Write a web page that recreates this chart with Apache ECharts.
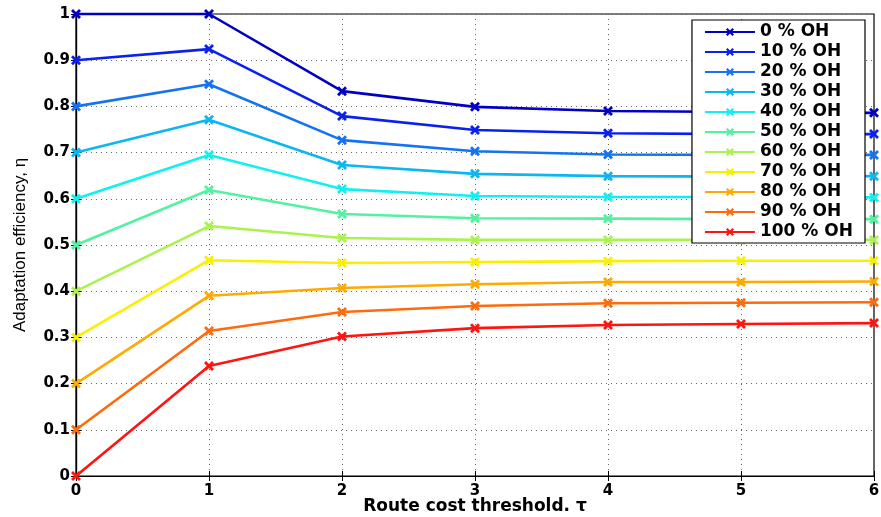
<!DOCTYPE html>
<html>
<head>
<meta charset="utf-8">
<script src="https://cdn.jsdelivr.net/npm/echarts@6/dist/echarts.min.js"></script>
<style>
  html, body { margin: 0; padding: 0; background: #fff; }
  #chart { width: 881px; height: 517px; }
</style>
</head>
<body>
<div id="chart"></div>
<script>
// Route cost threshold values (x axis)
const thresholds = [0, 1, 2, 3, 4, 5, 6];

// Series names: overhead percentage
const seriesNames = ['0 % OH', '10 % OH', '20 % OH', '30 % OH', '40 % OH', '50 % OH',
                     '60 % OH', '70 % OH', '80 % OH', '90 % OH', '100 % OH'];

// Adaptation efficiency per overhead level
const oh0   = [1.0, 1.0,   0.833, 0.799, 0.790, 0.788, 0.786];
const oh10  = [0.9, 0.924, 0.779, 0.749, 0.742, 0.740, 0.740];
const oh20  = [0.8, 0.848, 0.727, 0.703, 0.696, 0.695, 0.695];
const oh30  = [0.7, 0.771, 0.673, 0.654, 0.649, 0.648, 0.649];
const oh40  = [0.6, 0.695, 0.621, 0.606, 0.604, 0.604, 0.603];
const oh50  = [0.5, 0.619, 0.567, 0.558, 0.557, 0.556, 0.556];
const oh60  = [0.4, 0.541, 0.515, 0.511, 0.511, 0.511, 0.511];
const oh70  = [0.3, 0.467, 0.461, 0.463, 0.465, 0.466, 0.466];
const oh80  = [0.2, 0.390, 0.407, 0.415, 0.420, 0.420, 0.421];
const oh90  = [0.1, 0.314, 0.355, 0.368, 0.374, 0.375, 0.376];
const oh100 = [0.0, 0.238, 0.302, 0.320, 0.327, 0.329, 0.331];

const seriesValues = [oh0, oh10, oh20, oh30, oh40, oh50, oh60, oh70, oh80, oh90, oh100];

// Jet-like colour ramp from blue to red
const colors = ['#0000c4', '#0a20f0', '#1473f2', '#0cb6f2', '#10f0f0', '#52f2a0',
                '#aaf24e', '#f8f000', '#ffaa00', '#ff6a0c', '#ff1410'];

// Y tick labels
const yTicks = ['0', '0.1', '0.2', '0.3', '0.4', '0.5', '0.6', '0.7', '0.8', '0.9', '1'];

// Filled "x" marker
const crossPath = 'path://M0,2 L2,0 L5,3 L8,0 L10,2 L7,5 L10,8 L8,10 L5,7 L2,10 L0,8 L3,5 Z';

const BOLD = '"DejaVu Sans", sans-serif';
const PLAIN = '"Liberation Sans", Arial, sans-serif';

const chart = echarts.init(document.getElementById('chart'), null, { renderer: 'canvas' });

const series = seriesNames.map((name, i) => ({
  name: name,
  type: 'line',
  data: thresholds.map((x, j) => [x, seriesValues[i][j]]),
  symbol: crossPath,
  symbolSize: 10,
  showAllSymbol: true,
  clip: false,
  lineStyle: { width: 2.6, color: colors[i] },
  itemStyle: { color: colors[i] },
  emphasis: { disabled: true },
  z: 3 + i
}));

chart.setOption({
  animation: false,
  backgroundColor: '#ffffff',
  grid: {
    left: 76, right: 7, top: 14, bottom: 41,
    outerBoundsMode: 'none',
    containLabel: false,
    show: true, borderColor: '#000', borderWidth: 1.2, backgroundColor: 'transparent'
  },
  legend: {
    orient: 'vertical',
    right: 16,
    top: 20,
    backgroundColor: '#ffffff',
    borderColor: '#000',
    borderWidth: 1.2,
    padding: [2, 12, 1, 12],
    itemWidth: 50,
    itemHeight: 10,
    itemGap: 0,
    textStyle: { fontFamily: BOLD, fontWeight: 'bold', fontSize: 17, lineHeight: 20, color: '#000' },
    data: seriesNames,
    z: 20
  },
  xAxis: [{
    type: 'value',
    min: 0, max: 6, interval: 1,
    name: 'Route cost threshold. τ',
    nameLocation: 'middle',
    nameGap: 22,
    nameMoveOverlap: false,
    nameTextStyle: { fontFamily: BOLD, fontWeight: 'bold', fontSize: 17, color: '#000' },
    axisLine: { show: true, onZero: false, lineStyle: { color: '#000', width: 1.2 } },
    axisTick: { show: true, inside: true, length: 5, lineStyle: { color: '#000' } },
    axisLabel: { fontFamily: BOLD, fontWeight: 'bold', fontSize: 15, color: '#000', margin: 8 },
    splitLine: { show: true, lineStyle: { color: '#666', type: [1, 4], width: 1 } }
  }, {
    type: 'value', position: 'top',
    min: 0, max: 6, interval: 1,
    axisLine: { show: true, lineStyle: { color: '#000', width: 1.2 } },
    axisTick: { show: true, inside: true, length: 5, lineStyle: { color: '#000' } },
    axisLabel: { show: false },
    splitLine: { show: false }
  }],
  yAxis: [{
    type: 'value',
    min: 0, max: 1, interval: 0.1,
    name: 'Adaptation efficiency, η',
    nameLocation: 'middle',
    nameGap: 47,
    nameMoveOverlap: false,
    nameTextStyle: { fontFamily: PLAIN, fontSize: 17, color: '#000' },
    axisLine: { show: true, onZero: false, lineStyle: { color: '#000', width: 1.2 } },
    axisTick: { show: true, inside: true, length: 5, lineStyle: { color: '#000' } },
    axisLabel: {
      fontFamily: BOLD, fontWeight: 'bold', fontSize: 15, color: '#000', margin: 6,
      formatter: (v) => yTicks[Math.round(v * 10)]
    },
    splitLine: { show: true, lineStyle: { color: '#666', type: [1, 4], width: 1 } }
  }, {
    type: 'value', position: 'right',
    min: 0, max: 1, interval: 0.1,
    axisLine: { show: true, lineStyle: { color: '#000', width: 1.2 } },
    axisTick: { show: true, inside: true, length: 5, lineStyle: { color: '#000' } },
    axisLabel: { show: false },
    splitLine: { show: false }
  }],
  series: series
});
</script>
</body>
</html>
